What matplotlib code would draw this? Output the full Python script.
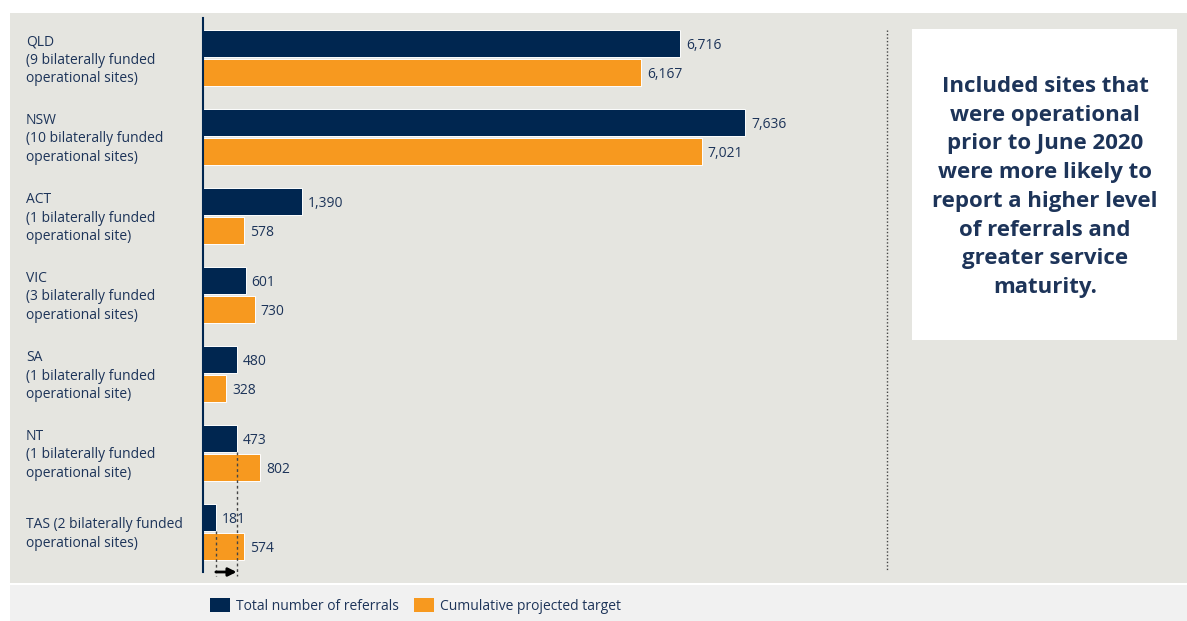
import matplotlib.pyplot as plt
from matplotlib.patches import Rectangle

plt.rcParams['font.family'] = ['Open Sans', 'DejaVu Sans']

states = ['QLD\n(9 bilaterally funded\noperational sites)',
          'NSW\n(10 bilaterally funded\noperational sites)',
          'ACT\n(1 bilaterally funded\noperational site)',
          'VIC\n(3 bilaterally funded\noperational sites)',
          'SA\n(1 bilaterally funded\noperational site)',
          'NT\n(1 bilaterally funded\noperational site)',
          'TAS (2 bilaterally funded\noperational sites)']
referrals = [6716, 7636, 1390, 601, 480, 473, 181]
targets = [6167, 7021, 578, 730, 328, 802, 574]
series_names = ['Total number of referrals', 'Cumulative projected target']
note = ('Included sites that\nwere operational\nprior to June 2020\n'
        'were more likely to\nreport a higher level\nof referrals and\n'
        'greater service\nmaturity.')

NAVY = '#002650'
ORANGE = '#f7991f'
TEXT = '#1d3459'
BG = '#e5e5e0'
LEG_BG = '#f1f1f1'

W, H = 1187, 621
fig = plt.figure(figsize=(W / 100, H / 100), dpi=100)
fig.patch.set_facecolor('white')


def px_rect(x0, y0, x1, y1):
    # pixel box (top-left origin) -> figure fraction [left, bottom, w, h]
    return [x0 / W, 1 - y1 / H, (x1 - x0) / W, (y1 - y0) / H]


def fx(x):
    return x / W


def fy(y):
    return 1 - y / H


# background panels
fig.patches.append(Rectangle((fx(10), fy(583)), fx(1187) - fx(10), fy(13) - fy(583),
                             transform=fig.transFigure, facecolor=BG, edgecolor='none', zorder=-2))
fig.patches.append(Rectangle((fx(10), fy(621)), fx(1187) - fx(10), fy(585) - fy(621),
                             transform=fig.transFigure, facecolor=LEG_BG, edgecolor='none', zorder=-2))
# note box
fig.patches.append(Rectangle((fx(912), fy(340)), fx(1177) - fx(912), fy(29) - fy(340),
                             transform=fig.transFigure, facecolor='white', edgecolor='none', zorder=-1))
fig.text(fx(1045), fy(187), note, ha='center', va='center', fontsize=16,
         fontweight='bold', color=TEXT, linespacing=1.48)

# dotted separator
fig.add_artist(plt.Line2D([fx(887), fx(887)], [fy(30), fy(570)], transform=fig.transFigure,
                          color='#444444', linestyle=(0, (1, 1.5)), linewidth=1))

# main bar axes
ax_left, ax_top, ax_bottom = 203, 18, 572
ax = fig.add_axes(px_rect(ax_left, ax_top, 880, ax_bottom))
ax.patch.set_alpha(0)
scale = (680 - 203) / referrals[0]  # px per unit
ax.set_xlim(0, (880 - ax_left) / scale)
spacing = 79
ax.set_ylim((ax_bottom - 58) / spacing, -(58 - ax_top) / spacing)

h = 27 / spacing
off = 14.5 / spacing
pos = list(range(len(states)))
ax.barh([p - off for p in pos], referrals, height=h, color=NAVY, edgecolor='white', linewidth=0.7)
ax.barh([p + off for p in pos], targets, height=h, color=ORANGE, edgecolor='white', linewidth=0.7)

for p, r, t in zip(pos, referrals, targets):
    ax.annotate(f'{r:,}', (r, p - off), xytext=(6, -2), textcoords='offset pixels',
                va='center', ha='left', fontsize=10, color=TEXT)
    ax.annotate(f'{t:,}', (t, p + off), xytext=(6, -2), textcoords='offset pixels',
                va='center', ha='left', fontsize=10, color=TEXT)
    ax.annotate(states[p], (0, p), xytext=(-177, -2), textcoords='offset pixels',
                va='center', ha='left', fontsize=10, color=TEXT, linespacing=1.3,
                annotation_clip=False)

for s in ['top', 'right', 'bottom']:
    ax.spines[s].set_visible(False)
ax.spines['left'].set_color(NAVY)
ax.spines['left'].set_linewidth(1.5)
ax.set_xticks([])
ax.set_yticks([])

# comparison of NT referrals vs TAS referrals
nt, tas = 5, 6
y_end = (576 - 58) / spacing
ax.plot([referrals[nt], referrals[nt]], [nt - off + h / 2, y_end], color='#444444',
        linestyle=(0, (2, 2)), linewidth=1, clip_on=False)
ax.plot([referrals[tas], referrals[tas]], [tas - off + h / 2, y_end], color='#444444',
        linestyle=(0, (2, 2)), linewidth=1, clip_on=False)
ax.annotate('', xy=(referrals[nt], (572 - 58) / spacing), xytext=(referrals[tas], (572 - 58) / spacing),
            arrowprops=dict(arrowstyle='-|>', color='black', lw=2, mutation_scale=12,
                            shrinkA=0, shrinkB=0), annotation_clip=False)

# legend
for x0, col, name in [(210, NAVY, series_names[0]), (414, ORANGE, series_names[1])]:
    fig.patches.append(Rectangle((fx(x0), fy(612)), fx(20), fy(598) - fy(612),
                                 transform=fig.transFigure, facecolor=col, edgecolor='none'))
    fig.text(fx(x0 + 26), fy(607), name, ha='left', va='center', fontsize=10, color=TEXT)

fig.savefig('out.png', dpi=100)
